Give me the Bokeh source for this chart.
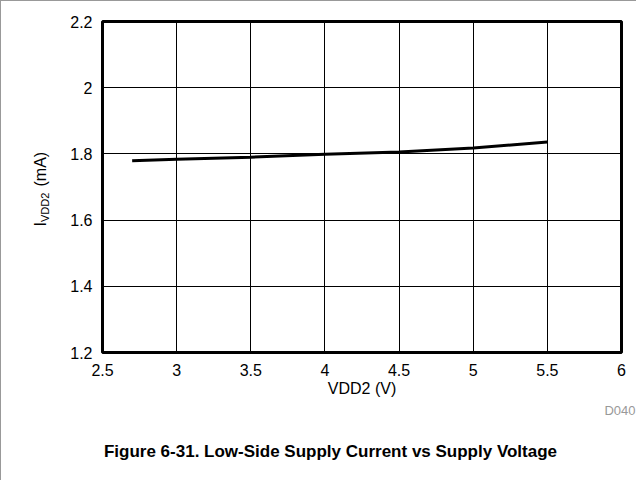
import math
from bokeh.plotting import figure
from bokeh.models import FixedTicker, Range1d
from bokeh.layouts import row, column
from bokeh.core.properties import value
from bokeh.embed import file_html
from bokeh.resources import INLINE

# data
vdd2 = [2.7, 3.0, 3.5, 4.0, 4.5, 5.0, 5.5]
ivdd2 = [1.779, 1.784, 1.790, 1.799, 1.806, 1.818, 1.836]
x_ticks = [2.5, 3, 3.5, 4, 4.5, 5, 5.5, 6]
y_ticks = [1.2, 1.4, 1.6, 1.8, 2.0, 2.2]
title_text = "Figure 6-31. Low-Side Supply Current vs Supply Voltage"
x_label = "VDD2 (V)"
y_label_main = "I"
y_label_sub = "VDD2"
y_label_unit = "(mA)"
code_label = "D040"

FONT = "Liberation Sans"

# page-pixel geometry
PX0, PY0 = 1, 1          # top-left of the layout (after the 1px border)
PAGE_B = 480
LAB_W = 63               # left strip holding the y-axis label
FL, FR, FT, FB = 102, 621, 21, 352   # plot frame
P_BOTTOM = 402           # bottom of the main figure
RIGHT = 636              # right edge of the layout
TOTAL_W = RIGHT - PX0
TOTAL_H = PAGE_B - PY0


def no_align(f):
    if "frame_align" in f.properties():
        f.frame_align = False
    return f


def blank(width, height, x0, x1, y0, y1):
    f = figure(width=width, height=height, output_backend="svg", toolbar_location=None,
               x_range=Range1d(x0, x1), y_range=Range1d(y0, y1),
               x_axis_type=None, y_axis_type=None, min_border=0)
    f.outline_line_color = None
    f.background_fill_color = "white"
    f.border_fill_color = "white"
    f.grid.visible = False
    return no_align(f)


# left strip: x in page px, y = PAGE_B - page y
lab = blank(LAB_W, TOTAL_H, PX0, PX0 + LAB_W, 0, TOTAL_H)
ang = math.pi / 2
lab.text(x=[40], y=[PAGE_B - 226], text=[y_label_main], angle=ang,
         text_font=value(FONT), text_font_size="16px", text_color="black",
         text_align="left", text_baseline="middle")
lab.text(x=[44], y=[PAGE_B - 221.5], text=[y_label_sub], angle=ang,
         text_font=value(FONT), text_font_size="11px", text_color="black",
         text_align="left", text_baseline="middle")
lab.text(x=[40], y=[PAGE_B - 186], text=[y_label_unit], angle=ang,
         text_font=value(FONT), text_font_size="16px", text_color="black",
         text_align="left", text_baseline="middle")

# main chart
MAIN_W = TOTAL_W - LAB_W
p = figure(width=MAIN_W, height=P_BOTTOM - PY0, output_backend="svg", toolbar_location=None,
           x_range=Range1d(2.5, 6.0), y_range=Range1d(1.2, 2.2),
           min_border_left=FL - (PX0 + LAB_W), min_border_right=RIGHT - FR,
           min_border_top=FT - PY0, min_border_bottom=P_BOTTOM - FB)
no_align(p)
p.background_fill_color = "white"
p.border_fill_color = "white"
p.outline_line_color = "black"
p.outline_line_width = 3

p.xaxis.ticker = FixedTicker(ticks=x_ticks)
p.yaxis.ticker = FixedTicker(ticks=y_ticks)
p.xaxis.major_label_overrides = {t: ("%g" % t) for t in x_ticks}
p.yaxis.major_label_overrides = {t: ("%g" % t) for t in y_ticks}
for ax in (p.xaxis, p.yaxis):
    ax.axis_line_color = None
    ax.major_tick_line_color = None
    ax.minor_tick_line_color = None
    ax.major_tick_out = 0
    ax.major_tick_in = 0
    ax.major_label_text_font = FONT
    ax.major_label_text_font_size = "16px"
    ax.major_label_text_color = "black"
p.xaxis.major_label_standoff = 11
p.yaxis.major_label_standoff = 10
p.xaxis.axis_label = x_label
p.xaxis.axis_label_text_font = FONT
p.xaxis.axis_label_text_font_style = "normal"
p.xaxis.axis_label_text_font_size = "16px"
p.xaxis.axis_label_text_color = "black"
p.xaxis.axis_label_standoff = 1

p.grid.grid_line_color = "black"
p.grid.grid_line_width = 1
p.grid.grid_line_alpha = 1.0

p.line(vdd2, ivdd2, line_color="black", line_width=3)

# caption strip below the chart
CAP_H = PAGE_B - P_BOTTOM
cap = blank(MAIN_W, CAP_H, PX0 + LAB_W, RIGHT, 0, CAP_H)
cap.text(x=[RIGHT - 1], y=[PAGE_B - 410], text=[code_label],
         text_font=value(FONT), text_font_size="13px", text_color="#999999",
         text_align="right", text_baseline="middle")
cap.text(x=[330], y=[PAGE_B - 451], text=[title_text],
         text_font=value(FONT), text_font_size="17px", text_font_style="bold",
         text_color="black", text_align="center", text_baseline="middle")

layout = row(lab, column(p, cap, spacing=0), spacing=0)
layout.styles = {"border-top": "1px solid #999999", "border-left": "1px solid #999999"}

open("out.html", "w").write(file_html(layout, INLINE))
